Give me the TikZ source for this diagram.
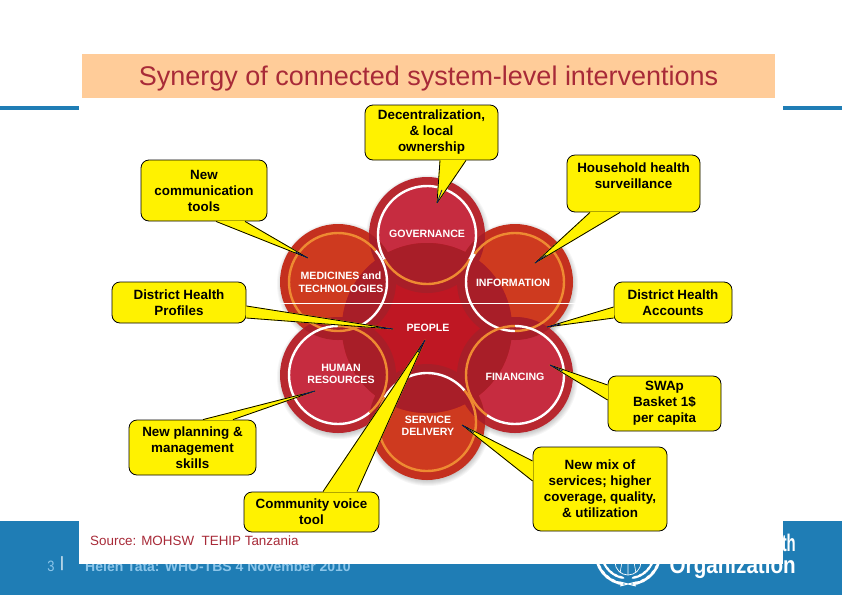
\documentclass[tikz,border=0pt]{standalone}
\usepackage{fontspec}
\setmainfont{Liberation Sans}
\newfontfamily\narrowfont[FakeStretch=0.86]{Liberation Sans}
\newfontfamily\tightfont[FakeStretch=0.62]{Liberation Sans}
\usetikzlibrary{calc}
\definecolor{whoblue}{HTML}{1F7DB5}
\definecolor{whopale}{HTML}{8CC6EA}
\definecolor{peach}{HTML}{FFCC99}
\definecolor{titlered}{HTML}{A82A38}
\definecolor{crimsonout}{HTML}{B8282F}
\definecolor{crimsonin}{HTML}{C62C40}
\definecolor{rustout}{HTML}{C4301F}
\definecolor{rustin}{HTML}{CE3A1F}
\definecolor{peoplered}{HTML}{BF1723}
\definecolor{overlapred}{HTML}{A81E28}
\definecolor{ringorange}{HTML}{EE8A32}
\definecolor{tailnavy}{HTML}{14146E}
\newcommand{\calltail}[3]{%
  \path[tailfill] (#1) -- (#3) -- (#2) -- cycle;
  \draw[tailedge] (#1) -- (#3) -- (#2);
  \draw[tailtip] (#3) -- ($(#3)!14pt!($(#1)!.5!(#2)$)$);
}
\begin{document}
\begin{tikzpicture}[
    x=1pt, y=1pt,
    callbox/.style={
        draw=black, fill=yellow, rounded corners=8pt, align=center,
        line width=.8pt, inner sep=0pt,
        font=\bfseries\fontsize{13.4}{16}\selectfont
    },
    tailfill/.style={fill=yellow, draw=yellow, line width=.9pt, line join=round},
    tailedge/.style={draw=black, line width=.8pt, line join=round},
    tailtip/.style={draw=tailnavy, line width=.8pt},
    ringline/.style={line width=2.4pt},
    petallabel/.style={
        text=white, align=center, inner sep=0pt,
        font=\bfseries\fontsize{10.6}{12.5}\selectfont
    },
    leaf/.style={fill=white}
]
  \useasboundingbox (0,0) rectangle (842,-595);

  % Slide behind the panel
  \fill[white] (0,0) rectangle (842,-595);
  \fill[whoblue] (0,-521) rectangle (842,-595);
  \fill[whoblue] (0,-106) rectangle (842,-110);
  \node (slidenum) at (51,-566) [text=whopale, font=\narrowfont\fontsize{15}{15}\selectfont, inner sep=0pt] {3};
  \node (slidebar) at (62,-564) [text=white, font=\fontsize{15}{15}\selectfont, inner sep=0pt] {|};
  \node (footer) at (218,-566) [text=whopale, font=\bfseries\fontsize{14}{15}\selectfont, inner sep=0pt] {Helen Tata: WHO-TBS 4 November 2010};
  \node (whoname) at (796,-543) [anchor=east, text=white, font=\tightfont\bfseries\fontsize{24}{24}\selectfont, inner sep=0pt] {World Health};
  \node (whoorg) at (796,-567.5) [anchor=east, text=white, font=\narrowfont\bfseries\fontsize{24}{24}\selectfont, inner sep=0pt] {Organization};

  % Emblem, mostly under the panel
  \foreach \ang in {195,207,...,265} {
    \fill[leaf, shift={(627,-553)}, rotate=\ang] (31pt,0) ellipse (1.6pt and 5pt);
    \fill[leaf, shift={(627,-553)}, rotate=\ang] (25pt,0) ellipse (1.3pt and 4pt);
  }
  \foreach \ang in {-15,-27,...,-75} {
    \fill[leaf, shift={(629,-553)}, rotate=\ang] (31pt,0) ellipse (1.6pt and 5pt);
    \fill[leaf, shift={(629,-553)}, rotate=\ang] (25pt,0) ellipse (1.3pt and 4pt);
  }
  \draw[white, line width=.7pt] (628,-562) circle (13pt);
  \draw[white, line width=.6pt] (628,-562) -- (628,-575) (622,-562) -- (620,-573) (634,-562) -- (636,-573);
  \draw[white, line width=1pt] (620,-586) -- (636,-582) (620,-582) -- (636,-586);

  % Panel and heading
  \fill[white] (79,-97) rectangle (783,-564);
  \node (heading) at (428.5,-76) [minimum width=693pt, minimum height=44pt, fill=peach, inner sep=0pt, text=titlered, text height=25pt, text depth=6pt, font=\fontsize{27}{27}\selectfont] {Synergy of connected system-level interventions};

  % Petal centres
  \coordinate (gov) at (427,-235);
  \coordinate (info) at (515,-282);
  \coordinate (med) at (338,-282);
  \coordinate (hum) at (338,-375);
  \coordinate (fin) at (515,-375);
  \coordinate (serv) at (427,-422);
  \coordinate (people) at (427,-328);

  % Soft shadows and petals
  \foreach \c in {gov,info,med,hum,fin,serv} {
    \foreach \r in {57,58,...,62} {
      \fill[black, opacity=.035] ($(\c)+(1,-2)$) circle (\r pt);
    }
  }
  \foreach \c/\out/\inn in {gov/crimsonout/crimsonin,info/rustout/rustin,med/rustout/rustin,hum/crimsonout/crimsonin,fin/crimsonout/crimsonin,serv/rustout/rustin} {
    \fill[\out] (\c) circle (58pt);
    \fill[\inn] (\c) circle (49pt);
  }
  \fill[peoplered] (people) circle (85pt);

  % Darker overlaps
  \foreach \a/\r/\b in {people/85/gov,people/85/info,people/85/med,people/85/hum,people/85/fin,people/85/serv,gov/58/info,gov/58/med,info/58/fin,med/58/hum,hum/58/serv,fin/58/serv} {
    \begin{scope}
      \clip (\a) circle (\r pt);
      \fill[overlapred] (\b) circle (58pt);
    \end{scope}
  }

  % Rings, white and orange parts
  \foreach \c/\from/\to/\col in {
      gov/-30/210/white, gov/210/330/ringorange,
      info/145/270/white, info/270/505/ringorange,
      med/-65/40/white, med/40/295/ringorange,
      hum/90/310/white, hum/-50/90/ringorange,
      fin/-125/90/white, fin/90/235/ringorange,
      serv/40/150/white, serv/150/400/ringorange} {
    \draw[ringline, \col] (\c) ++(\from:49pt) arc[start angle=\from, end angle=\to, radius=49pt];
  }
  \draw[white, line width=.5pt] (270,-303) -- (582,-303);

  % Petal labels
  \node (govlabel) at (427,-233.5) [petallabel] {GOVERNANCE};
  \node (infolabel) at (513,-283) [petallabel] {INFORMATION};
  \node (medlabel) at (341,-282) [petallabel] {MEDICINES and\\TECHNOLOGIES};
  \node (peoplelabel) at (428,-328) [petallabel] {PEOPLE};
  \node (humlabel) at (341,-374) [petallabel] {HUMAN\\RESOURCES};
  \node (finlabel) at (515,-377) [petallabel] {FINANCING};
  \node (servlabel) at (428,-426) [petallabel] {SERVICE\\DELIVERY};

  % Callouts
  \node (decent) at (431.5,-132.5) [callbox, minimum width=133pt, minimum height=55pt] {Decentralization,\\\& local\\ownership};
  \node (comm) at (204,-190.5) [callbox, minimum width=126pt, minimum height=61pt] {New\\communication\\tools};
  \node (house) at (633.5,-183.5) [callbox, minimum width=133pt, minimum height=57pt] {Household health\\surveillance\\[-6pt]\strut};
  \node (profiles) at (179,-302.5) [callbox, minimum width=134pt, minimum height=41pt] {District Health\\Profiles};
  \node (accounts) at (673,-302.5) [callbox, minimum width=118pt, minimum height=41pt] {District Health\\Accounts};
  \node (swap) at (664.5,-403.5) [callbox, minimum width=113pt, minimum height=55pt] {SWAp\\Basket 1\$\\per capita};
  \node (planning) at (192.5,-447.5) [callbox, minimum width=127pt, minimum height=55pt] {New planning \&\\management\\skills};
  \node (voice) at (311.5,-512) [callbox, minimum width=135pt, minimum height=40pt] {Community voice\\tool};
  \node (mix) at (600,-489) [callbox, minimum width=134pt, minimum height=84pt] {New mix of\\services; higher\\coverage, quality,\\\& utilization};

  % Tail tips
  \coordinate (decenttip) at (437,-203);
  \coordinate (commtip) at (308,-258);
  \coordinate (housetip) at (535,-263);
  \coordinate (profilestip) at (393,-329);
  \coordinate (accountstip) at (547,-327);
  \coordinate (swaptip) at (550,-365);
  \coordinate (planningtip) at (315,-391);
  \coordinate (voicetip) at (425,-340);
  \coordinate (mixtip) at (462,-425);

  % Tails
  \calltail{[xshift=8.5pt]decent.south}{[xshift=34.5pt]decent.south}{decenttip}
  \calltail{[xshift=12pt]comm.south}{[xshift=41pt]comm.south}{commtip}
  \calltail{[xshift=-43.5pt]house.south}{[xshift=-13.5pt]house.south}{housetip}
  \calltail{[yshift=-3.5pt]profiles.east}{[yshift=-15.5pt]profiles.east}{profilestip}
  \calltail{[yshift=-4.5pt]accounts.west}{[yshift=-15.5pt]accounts.west}{accountstip}
  \calltail{[yshift=18.5pt]swap.west}{[yshift=3.5pt]swap.west}{swaptip}
  \calltail{[xshift=10.5pt]planning.north}{[xshift=40.5pt]planning.north}{planningtip}
  \calltail{[xshift=11.5pt]voice.north}{[xshift=45.5pt]voice.north}{voicetip}
  \calltail{[yshift=28pt]mix.west}{[yshift=8pt]mix.west}{mixtip}

  % Source line
  \node (source) at (90,-541) [anchor=west, inner sep=0pt, text=titlered, font=\fontsize{13.4}{14}\selectfont] {Source: MOHSW\ \ TEHIP Tanzania};
\end{tikzpicture}
\end{document}
